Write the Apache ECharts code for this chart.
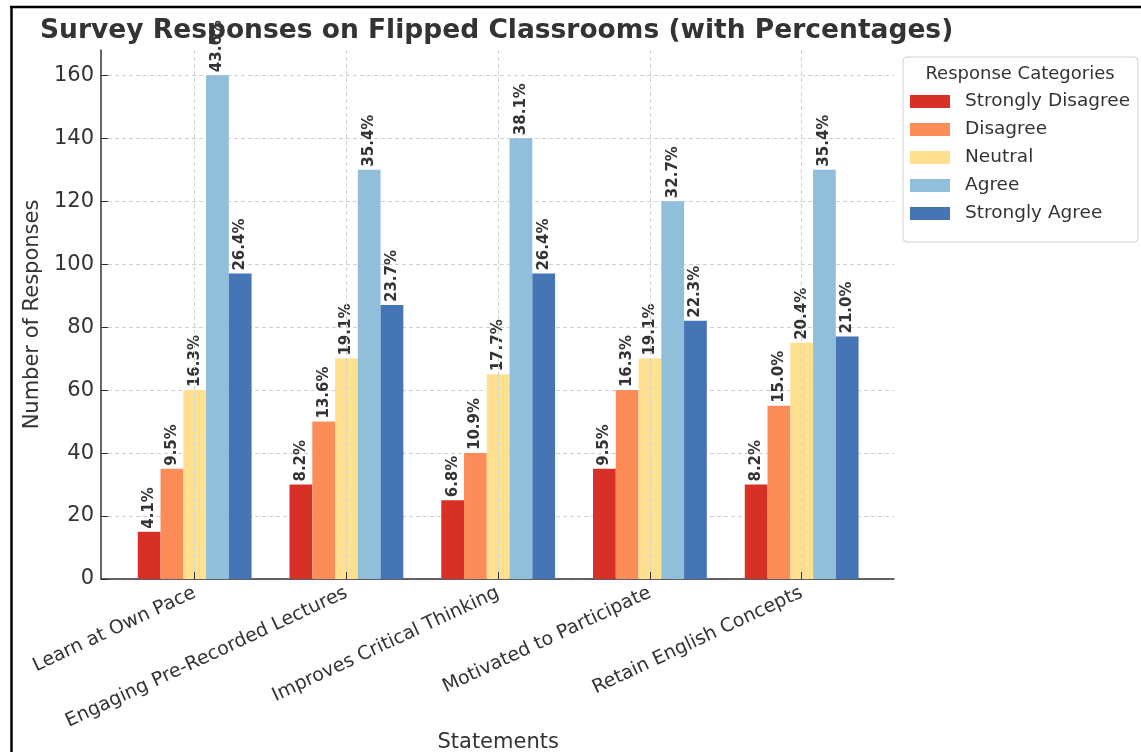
<!DOCTYPE html>
<html><head><meta charset="utf-8">
<script src="https://cdn.jsdelivr.net/npm/echarts@6/dist/echarts.min.js"></script>
<style>html,body{margin:0;padding:0;background:#fff}#c{width:1141px;height:752px}</style>
</head><body><div id="c"></div><script>
const categories = ['Learn at Own Pace','Engaging Pre-Recorded Lectures','Improves Critical Thinking','Motivated to Participate','Retain English Concepts'];
const seriesNames = ['Strongly Disagree','Disagree','Neutral','Agree','Strongly Agree'];
const stronglyDisagree = [15,30,25,35,30];
const disagree = [35,50,40,60,55];
const neutral = [60,70,65,70,75];
const agree = [160,130,140,120,130];
const stronglyAgree = [97,87,97,82,77];
const pctStronglyDisagree = ['4.1%','8.2%','6.8%','9.5%','8.2%'];
const pctDisagree = ['9.5%','13.6%','10.9%','16.3%','15.0%'];
const pctNeutral = ['16.3%','19.1%','17.7%','19.1%','20.4%'];
const pctAgree = ['43.6%','35.4%','38.1%','32.7%','35.4%'];
const pctStronglyAgree = ['26.4%','23.7%','26.4%','22.3%','21.0%'];
const colors = ['#d73027','#fc8d59','#fee090','#91bfdb','#4575b4'];
const yMaxAxis = 168, yMaxTicks = 160, yStep = 20;

const seriesValues = [stronglyDisagree, disagree, neutral, agree, stronglyAgree];
const seriesPcts = [pctStronglyDisagree, pctDisagree, pctNeutral, pctAgree, pctStronglyAgree];

const FONT = 'DejaVu Sans';
const plotTop = 50, plotBottom = 579, plotLeft = 101, plotRight = 894;
const plotH = plotBottom - plotTop;
const tickTop = plotBottom - plotH * yMaxTicks / yMaxAxis;
const bandLeft = 118.8, bandWidth = 758.75;
const bandStep = bandWidth / categories.length;
const dash = {color:'#d0d0d0', type:[4,3], width:1};

const chart = echarts.init(document.getElementById('c'), null, {renderer:'canvas'});
const option = {
  backgroundColor:'#fff',
  animation:false,
  textStyle:{fontFamily:FONT},
  title:{
    text:'Survey Responses on Flipped Classrooms (with Percentages)',
    left:40, top:18, padding:0,
    textStyle:{fontFamily:FONT, fontWeight:'bold', fontSize:26.5, color:'#333'}
  },
  legend:{
    data:seriesNames,
    orient:'vertical', left:903, top:57,
    padding:[35,8,19,7],
    itemWidth:40, itemHeight:13, itemGap:9,
    icon:'rect',
    backgroundColor:'rgba(255,255,255,0.85)',
    borderColor:'#d0d0d0', borderWidth:1, borderRadius:4,
    textStyle:{fontFamily:FONT, fontSize:18.5, color:'#333', lineHeight:18, padding:[0,0,0,10]}
  },
  graphic:[
    {type:'text', x:1020, y:74, z:100,
     style:{text:'Response Categories', fontFamily:FONT, fontSize:18, fill:'#333', align:'center', verticalAlign:'middle'}},
    {type:'line', shape:{x1:10, y1:7, x2:1141, y2:7}, style:{stroke:'#000', lineWidth:2.5}},
    {type:'line', shape:{x1:11.5, y1:6, x2:11.5, y2:752}, style:{stroke:'#000', lineWidth:2.5}}
  ],
  grid:[
    {left:plotLeft, top:plotTop, width:plotRight-plotLeft, height:plotH, containLabel:false, outerBoundsMode:'none'},
    {left:plotLeft, top:tickTop, width:plotRight-plotLeft, height:plotBottom-tickTop, containLabel:false, outerBoundsMode:'none'},
    {left:bandLeft, top:plotTop, width:bandWidth, height:plotH, containLabel:false, outerBoundsMode:'none'},
    {left:bandLeft + bandStep/2, top:plotTop, width:bandStep*(categories.length-1), height:plotH, containLabel:false, outerBoundsMode:'none'}
  ],
  xAxis:[
    {gridIndex:0, type:'value', min:0, max:1, axisLine:{show:true, onZero:false, lineStyle:{color:'#333', width:1.5}},
     axisTick:{show:false}, axisLabel:{show:false}, splitLine:{show:false}},
    {gridIndex:1, type:'value', show:false},
    {gridIndex:2, type:'category', data:categories,
     axisLine:{show:false}, axisTick:{show:false},
     axisLabel:{rotate:25, fontFamily:FONT, fontSize:19, color:'#333', margin:13, interval:0},
     name:'Statements', nameLocation:'middle', nameGap:153, nameMoveOverlap:false,
     nameTextStyle:{fontFamily:FONT, fontSize:21, color:'#333'}},
    {gridIndex:3, type:'value', min:0, max:categories.length-1, interval:1, z:10,
     axisLine:{show:false}, axisLabel:{show:false},
     axisTick:{show:true, inside:true, length:7, lineStyle:{color:'#333'}},
     splitLine:{show:true, lineStyle:dash}}
  ],
  yAxis:[
    {gridIndex:0, type:'value', min:0, max:yMaxAxis,
     axisLine:{show:true, onZero:false, lineStyle:{color:'#333', width:1.5}},
     axisTick:{show:false}, axisLabel:{show:false}, splitLine:{show:false},
     name:'Number of Responses', nameLocation:'middle', nameGap:58, nameMoveOverlap:false,
     nameTextStyle:{fontFamily:FONT, fontSize:21, color:'#333'}},
    {gridIndex:1, type:'value', min:0, max:yMaxTicks, interval:yStep,
     axisLine:{show:false},
     axisTick:{show:true, inside:true, length:7, lineStyle:{color:'#333'}},
     axisLabel:{fontFamily:FONT, fontSize:21, color:'#333', margin:7},
     splitLine:{show:true, lineStyle:dash}},
    {gridIndex:2, type:'value', min:0, max:yMaxAxis, show:false},
    {gridIndex:3, type:'value', min:0, max:yMaxAxis, show:false}
  ],
  series: seriesNames.map((name, i) => ({
    name, type:'bar', xAxisIndex:2, yAxisIndex:2,
    data: seriesValues[i],
    barGap:'0%', barCategoryGap:'25%',
    itemStyle:{color:colors[i]},
    label:{show:true, position:'top', rotate:90, align:'left', verticalAlign:'middle', distance:3,
      fontFamily:FONT, fontWeight:'bold', fontSize:15, color:'#333',
      formatter: p => seriesPcts[i][p.dataIndex]}
  }))
};
chart.setOption(option);
</script></body></html>
